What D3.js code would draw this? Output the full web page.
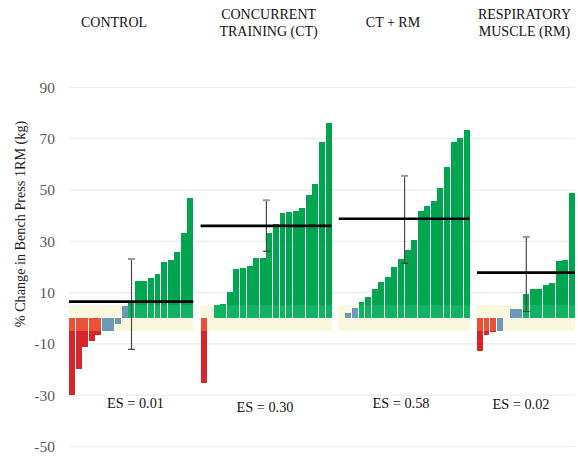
<!DOCTYPE html>
<html>
<head>
<meta charset="utf-8">
<script src="https://cdn.jsdelivr.net/npm/d3@7"></script>
<style>
  html, body { margin: 0; padding: 0; background: #fff; }
  svg { display: block; }
</style>
</head>
<body>
<svg id="chart" width="578" height="456"></svg>
<script>
// Individual % change in bench press 1RM, sorted within each group
const groupTitles = [
  ["CONTROL"],
  ["CONCURRENT", "TRAINING (CT)"],
  ["CT + RM"],
  ["RESPIRATORY", "MUSCLE (RM)"]
];
const controlValues = [-30.0, -19.6, -11.1, -8.7, -6.4, -5.0, -4.9, -2.2, 4.9, 6.1, 14.5, 14.5, 15.7, 17.3, 21.9, 22.7, 25.8, 33.2, 46.9];
const ctValues = [-25.1, 0, 5.2, 5.6, 10.2, 19.2, 19.6, 20.4, 23.5, 23.5, 33.2, 36.7, 41.0, 41.4, 41.8, 43.0, 48.0, 52.3, 68.7, 76.1];
const ctRmValues = [0, 2.1, 4.0, 6.4, 8.3, 11.4, 14.1, 16.1, 20.0, 23.1, 26.6, 30.5, 41.8, 43.8, 45.7, 50.8, 59.0, 68.7, 70.3, 73.4];
const rmValues = [-12.7, -6.5, -5.3, -4.9, 0, 3.6, 3.6, 9.5, 11.4, 11.4, 13.0, 13.8, 22.3, 22.8, 48.8];
const groupMeans = [6.5, 36.0, 38.8, 17.8];
const ciLower = [-12.1, 26.1, 21.4, 2.7];
const ciUpper = [23.1, 46.0, 55.5, 31.7];
const effectSizes = ["ES = 0.01", "ES = 0.30", "ES = 0.58", "ES = 0.02"];
const yTicks = [90, 70, 50, 30, 10, -10, -30, -50];
const trivialBand = [-5, 5];

const groupValues = [controlValues, ctValues, ctRmValues, rmValues];

const serif = '"Liberation Serif"';
const svg = d3.select("#chart");

const y = d3.scaleLinear().domain([-50, 90]).range([446.6, 87.3]);

// one slot per participant, with an empty slot between groups
const slots = [];
groupValues.forEach((vals, g) => {
  if (g > 0) slots.push(`gap-${g}`);
  vals.forEach((v, i) => slots.push(`${g}-${i}`));
});
const x = d3.scaleBand().domain(slots).range([69, 575]).paddingInner(0.1).paddingOuter(0);
const step = x.step();

const groupStart = g => x(`${g}-0`);
const groupEnd = g => x(`${g}-${groupValues[g].length - 1}`) + x.bandwidth();
const groupCenter = g => (groupStart(g) + groupEnd(g) + step - x.bandwidth()) / 2;

// gridlines and tick labels
svg.append("g").selectAll("line").data(yTicks).join("line")
  .attr("x1", 69).attr("x2", 575)
  .attr("y1", d => y(d)).attr("y2", d => y(d))
  .attr("stroke", "#ececec").attr("stroke-width", 1.2);

svg.append("g").selectAll("text").data(yTicks).join("text")
  .attr("x", 55).attr("y", d => y(d)).attr("dy", "0.35em")
  .attr("text-anchor", "end")
  .style("font-family", serif)
  .attr("font-size", 15.5).attr("fill", "#5a5a5a")
  .text(d => d);

// y-axis title
svg.append("text")
  .attr("transform", `translate(25,${224}) rotate(-90)`)
  .attr("text-anchor", "middle")
  .style("font-family", serif)
  .attr("font-size", 14.2).attr("fill", "#222")
  .text("% Change in Bench Press 1RM (kg)");

// trivial-change band behind each group
svg.append("g").selectAll("rect").data(groupValues).join("rect")
  .attr("x", (d, g) => groupStart(g) - (step - x.bandwidth()) / 2)
  .attr("width", (d, g) => groupEnd(g) - groupStart(g) + (step - x.bandwidth()))
  .attr("y", y(trivialBand[1]))
  .attr("height", y(trivialBand[0]) - y(trivialBand[1]))
  .attr("fill", "#f9f8df");

// colour by magnitude of change
const palette = {
  up:   { strong: "#00a550", light: "#10b264" },
  down: { strong: "#d7252b", light: "#e9513a" },
  flat: { strong: "#6a9ab5", light: "#6a9ab5" }
};
const category = v => v > trivialBand[1] ? "up" : (v < trivialBand[0] ? "down" : "flat");

const segments = [];
groupValues.forEach((vals, g) => {
  vals.forEach((v, i) => {
    const key = `${g}-${i}`;
    const c = palette[category(v)];
    const inner = Math.max(trivialBand[0], Math.min(trivialBand[1], v));
    segments.push({ key, from: 0, to: inner, fill: c.light });
    if (v > trivialBand[1]) segments.push({ key, from: trivialBand[1], to: v, fill: c.strong });
    if (v < trivialBand[0]) segments.push({ key, from: trivialBand[0], to: v, fill: c.strong });
  });
});

svg.append("g").attr("shape-rendering", "crispEdges")
  .selectAll("rect").data(segments.filter(s => s.from !== s.to)).join("rect")
  .attr("x", d => x(d.key))
  .attr("width", x.bandwidth())
  .attr("y", d => y(Math.max(d.from, d.to)))
  .attr("height", d => Math.abs(y(d.from) - y(d.to)))
  .attr("fill", d => d.fill);

// confidence intervals
const ci = svg.append("g");
groupMeans.forEach((m, g) => {
  const cx = groupCenter(g);
  ci.append("line")
    .attr("x1", cx).attr("x2", cx)
    .attr("y1", y(ciUpper[g])).attr("y2", y(ciLower[g]))
    .attr("stroke", "#4a4a4a").attr("stroke-width", 1.2);
  ci.append("line")
    .attr("x1", cx - 3.5).attr("x2", cx + 3.5)
    .attr("y1", y(ciUpper[g])).attr("y2", y(ciUpper[g]))
    .attr("stroke", "#9a9a9a").attr("stroke-width", 2);
  ci.append("line")
    .attr("x1", cx - 3.5).attr("x2", cx + 3.5)
    .attr("y1", y(ciLower[g])).attr("y2", y(ciLower[g]))
    .attr("stroke", "#444").attr("stroke-width", 1.2);
});

// group means
svg.append("g").selectAll("line").data(groupMeans).join("line")
  .attr("x1", (d, g) => groupStart(g))
  .attr("x2", (d, g) => groupEnd(g))
  .attr("y1", d => y(d)).attr("y2", d => y(d))
  .attr("stroke", "#000").attr("stroke-width", 2.6);

// group titles
const titleX = [114, 268.6, 393, 524.5];
groupTitles.forEach((lines, g) => {
  const t = svg.append("text")
    .attr("text-anchor", "middle")
    .style("font-family", serif)
    .attr("font-size", 14).attr("fill", "#111");
  const baselines = lines.length === 1 ? [27.3] : [18.6, 36.2];
  lines.forEach((s, i) => {
    t.append("tspan").attr("x", titleX[g]).attr("y", baselines[i]).text(s);
  });
});

// effect sizes
const esX = [135.5, 265, 401, 521];
const esY = [408, 412, 408, 409];
svg.append("g").selectAll("text").data(effectSizes).join("text")
  .attr("x", (d, g) => esX[g]).attr("y", (d, g) => esY[g])
  .attr("text-anchor", "middle")
  .style("font-family", serif)
  .attr("font-size", 14.3).attr("fill", "#111")
  .text(d => d);
</script>
</body>
</html>
